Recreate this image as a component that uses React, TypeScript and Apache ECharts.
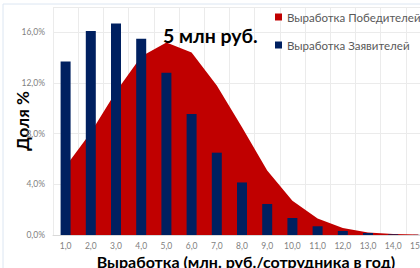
import React, { useEffect, useRef } from "react";
import * as echarts from "echarts";

const categories = ["1,0", "2,0", "3,0", "4,0", "5,0", "6,0", "7,0", "8,0", "9,0", "10,0", "11,0", "12,0", "13,0", "14,0", "15,0"];
const winners = [5.4, 8.1, 11.3, 14.1, 15.2, 14.4, 11.8, 8.5, 5.1, 2.7, 1.3, 0.55, 0.2, 0.08, 0.03];
const applicants = [13.7, 16.1, 16.7, 15.5, 12.8, 9.55, 6.5, 4.15, 2.45, 1.34, 0.69, 0.32, 0.16, 0.05, 0.01];
const yTicks = { min: 0, max: 18, interval: 4 };
const seriesNames = ["Выработка Победителей", "Выработка Заявителей"];
const annotation = "5 млн руб.";
const xName = "Выработка (млн. руб./сотрудника в год)";
const yName = "Доля %";

const FONT = "Lato, 'Open Sans', sans-serif";

export default function App() {
  const ref = useRef<HTMLDivElement>(null);
  useEffect(() => {
    if (!ref.current) return;
    const chart = echarts.init(ref.current, null, { renderer: "svg" });
    chart.setOption({
      animation: false,
      backgroundColor: "#ffffff",
      textStyle: { fontFamily: FONT },
      grid: { left: 53, right: -11, top: 7, bottom: 33, containLabel: false, outerBoundsMode: "none" },
      title: {
        text: annotation,
        left: 158,
        top: 20,
        textStyle: { fontSize: 19.5, fontWeight: "bold", color: "#000", fontFamily: FONT },
      },
      legend: {
        data: seriesNames,
        orient: "vertical",
        left: 275,
        top: 11,
        padding: 0,
        itemGap: 16,
        itemWidth: 7,
        itemHeight: 7,
        icon: "rect",
        textStyle: { fontSize: 11.5, color: "#595959", fontFamily: FONT },
      },
      xAxis: {
        type: "category",
        data: categories,
        boundaryGap: true,
        axisLine: { show: true, lineStyle: { color: "#d9d9d9" } },
        axisTick: { show: false },
        axisLabel: { fontSize: 8.5, color: "#7f7f7f", margin: 6, interval: 0 },
        splitLine: { show: true, lineStyle: { color: "#ebebeb" } },
        name: xName,
        nameLocation: "middle",
        nameGap: 18,
        nameMoveOverlap: false,
        nameTextStyle: { fontSize: 16, fontWeight: "bold", color: "#000", fontFamily: FONT, padding: [0, 0, 0, 8] },
      },
      yAxis: {
        type: "value",
        min: yTicks.min,
        max: yTicks.max,
        interval: yTicks.interval,
        axisLine: { show: false },
        axisTick: { show: false },
        axisLabel: {
          fontSize: 8.5,
          color: "#7f7f7f",
          margin: 8,
          showMaxLabel: false,
          formatter: (v: number) => v.toFixed(1).replace(".", ",") + "%",
        },
        splitLine: { show: true, lineStyle: { color: "#ebebeb" } },
        name: yName,
        nameLocation: "middle",
        nameGap: 22,
        nameMoveOverlap: false,
        nameRotate: 90,
        nameTextStyle: { fontSize: 17, fontWeight: "bold", color: "#000", fontFamily: FONT },
      },
      series: [
        {
          name: seriesNames[0],
          type: "line",
          data: winners,
          symbol: "none",
          color: "#c00000",
          lineStyle: { width: 0 },
          areaStyle: { color: "#c00000", opacity: 1 },
          z: 1,
        },
        {
          name: seriesNames[1],
          type: "bar",
          data: applicants,
          barWidth: 10,
          color: "#002060",
          z: 2,
        },
      ],
      graphic: [
        {
          type: "rect",
          shape: { x: 3, y: 4, width: 430, height: 270 },
          style: { fill: "none", stroke: "#dce6f2", lineWidth: 1 },
          silent: true,
        },
      ],
    });
    return () => chart.dispose();
  }, []);
  return <div ref={ref} style={{ position: "absolute", left: 0, top: 0, width: 420, height: 268 }} />;
}
